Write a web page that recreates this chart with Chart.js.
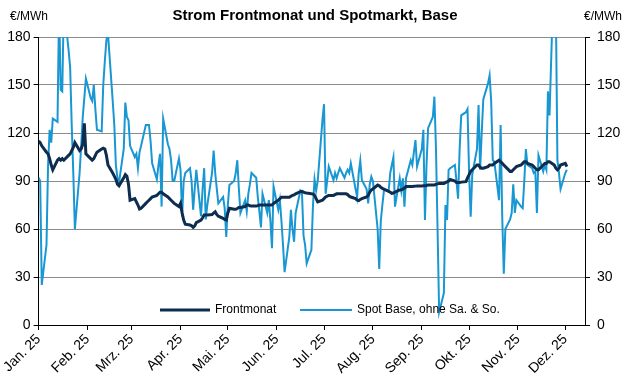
<!DOCTYPE html>
<html>
<head>
<meta charset="utf-8">
<script src="https://cdn.jsdelivr.net/npm/chart.js@4"></script>
<style>
html,body{margin:0;padding:0;background:#fff;}
#c{display:block;}
</style>
</head>
<body>
<canvas id="c" width="626" height="392"></canvas>
<script>
// ---- Texts ----
const titleText = 'Strom Frontmonat und Spotmarkt, Base';
const unitLabel = '€/MWh';
const seriesNames = ['Frontmonat', 'Spot Base, ohne Sa. & So.'];
const monthLabels = ['Jan. 25','Feb. 25','Mrz. 25','Apr. 25','Mai. 25','Jun. 25','Jul. 25','Aug. 25','Sep. 25','Okt. 25','Nov. 25','Dez. 25'];
const monthStarts = [0,31,59,90,120,151,181,212,243,273,304,334]; // day-of-year of 1st of month
const yTicks = [0,30,60,90,120,150,180];

// ---- Spot Base (weekdays only), per month ----
const spotJan = [92,90,25,50,100,122,114,129,127,200,147,146,200,172,161,125,95,60,95,112,130,142,154];
const spotFeb = [142,140,150,135,122,121,150,165,178,182,140,125,100,92,89,110,139,130,128,112];
const spotMar = [105,107,98,108,112,125,125,125,115,101,91,100,107,74,129,113,110,103,90,90,104];
const spotApr = [97,68,90,95,98,90,72,85,97,68,85,98,66,75,95,109,95,85,76,80,73,55];
const spotMay = [75,87.5,90,95,103,85,70,78,71,82,88,95,92,80,71,61,82,70,78,65,48,86.5];
const spotJun = [72,78,65,50,33,55,72,60,52,70,84,83,56,50,38.5,47,75,91,84,90,128];
const spotJul = [138,82,90,99,90.6,95,91.7,95,98,92,95,97,95,101,85,80,95,102.7,90.6,85,76,88,92.7];
const spotAug = [90,60,35,65,75,84,84,95,100,104.8,74,91.7,84,91.7,74,91.7,103,100,108,115.6,99];
const spotSep = [110,122,65.6,100,123,130,142.7,110,60,8,20,75,65.6,97,98,100,90,79,110,131,133,135];
const spotOct = [95,67.7,94,110,137.5,97,120,141,151,156,140,103,102,78,125,68,32,60,66,70,88,70,78];
const spotNov = [74,73,90,110,100,98,95,96,70,106,96,100,97,146,131,230,200,103,95,85];
const spotDec = [95,97];

// ---- Frontmonat, per month ----
const frontJan = [115,114,112,108,107,104,100,97,103,104,103,104,103,106,107,109,111,114,109,110,113,126,107];
const frontFeb = [104,103,104,106,108,110,110.5,110,106,100,95,93,91,88,87,92,94,93,88,78];
const frontMar = [79,77,75,72.5,73,76,77,78,79,80,81,82,83,83,82,80,79,78,77,76,74];
const frontApr = [76,70,65.6,63,62.5,62,61,62,64,65.6,67,68.8,68.8,68.8,69,70,70.8,69,68,66.7,66,65.6];
const frontMay = [70,73,72.3,72.3,72.8,73.5,73.5,74,75,75,74.5,74.4,74.4,74.6,75,75,75,75,75,75,75,76];
const frontJun = [78,79,79.8,79.8,79.8,79.8,80.5,81,81.3,82,83.3,83.5,83,82.7,82.5,82,81.9,81,79,77,78];
const frontJul = [79,80,80.5,81,81,81.5,82,82,82,82,82,81.5,80.5,80,79,78,77.7,78.5,79,80,81,83,84.4];
const frontAug = [85,87.5,87,86,85.4,85,83.5,83,82.3,82.5,83,84.4,84.5,85,85.5,86.5,86.5,86.5,86.7,86.8,86.9];
const frontSep = [86.9,87,87,87.2,87.5,87.5,87.5,88,88.2,88.5,88.5,89,89.5,90,91,90,89,89,89,89.3,89.6,92];
const frontOct = [94,96,97,100,100,98.5,98,98,99,100,100,100,101,103,102,101,100,99,96,96,97,98,99];
const frontNov = [100,101,102,102,101,100,99,98,97,97,100,101,101,102,102,100,98,97,98,100];
const frontDec = [101,99];

// ---- Build weekday dates (day-of-year index) from the calendar ----
const weekdays = [];
for (let d = 0; d <= 335; d++) {
  const w = new Date(Date.UTC(2025, 0, 1 + d)).getUTCDay();
  if (w !== 0 && w !== 6) weekdays.push(d);
}
const spot = [].concat(spotJan,spotFeb,spotMar,spotApr,spotMay,spotJun,spotJul,spotAug,spotSep,spotOct,spotNov,spotDec);
const front = [].concat(frontJan,frontFeb,frontMar,frontApr,frontMay,frontJun,frontJul,frontAug,frontSep,frontOct,frontNov,frontDec);
const spotPts = spot.map((v,i)=>({x: weekdays[i], y: v}));
const frontPts = front.map((v,i)=>({x: weekdays[i], y: v}));

const FRONT_COLOR = '#0d2c4f';
const SPOT_COLOR = '#1897d3';
const FONT = '"Liberation Sans", Arial, sans-serif';

Chart.defaults.font.family = FONT;
Chart.defaults.color = '#000';

const overlay = {
  id: 'overlay',
  afterDraw(chart) {
    const ctx = chart.ctx;
    ctx.save();
    ctx.fillStyle = '#000';
    ctx.textBaseline = 'middle';
    ctx.font = 'bold 15px ' + FONT;
    ctx.textAlign = 'center';
    ctx.fillText(titleText, 315, 16);
    ctx.font = '12px ' + FONT;
    ctx.textAlign = 'left';
    ctx.fillText(unitLabel, 10, 17);
    ctx.textAlign = 'right';
    ctx.fillText(unitLabel, 622, 17);
    // legend inside the plot
    const ly = 310;
    const items = [
      {x0: 160, x1: 210, tx: 215, w: 3, c: FRONT_COLOR, t: seriesNames[0]},
      {x0: 300, x1: 352, tx: 357, w: 2, c: SPOT_COLOR, t: seriesNames[1]}
    ];
    items.forEach(it => {
      ctx.strokeStyle = it.c; ctx.lineWidth = it.w;
      ctx.beginPath(); ctx.moveTo(it.x0, ly); ctx.lineTo(it.x1, ly); ctx.stroke();
      ctx.fillStyle = '#000'; ctx.textAlign = 'left';
      ctx.fillText(it.t, it.tx, ly);
    });
    ctx.restore();
  }
};

new Chart(document.getElementById('c'), {
  type: 'line',
  data: {
    datasets: [
      {label: seriesNames[0], data: frontPts, borderColor: FRONT_COLOR, borderWidth: 3, pointRadius: 0, tension: 0, yAxisID: 'y'},
      {label: seriesNames[1], data: spotPts, borderColor: SPOT_COLOR, borderWidth: 2, pointRadius: 0, tension: 0, yAxisID: 'y'}
    ]
  },
  options: {
    responsive: false,
    animation: false,
    layout: {padding: {top: 37, left: 0, right: 0, bottom: 0}},
    plugins: {legend: {display: false}, title: {display: false}, tooltip: {enabled: false}},
    scales: {
      x: {
        type: 'linear', min: 0, max: 346.5,
        afterBuildTicks: ax => { ax.ticks = monthStarts.map(v => ({value: v})); },
        afterFit: ax => { ax.height = 67; },
        ticks: {autoSkip: false, minRotation: 45, maxRotation: 45, padding: 1, font: {size: 14}, color: '#000',
                callback: v => monthLabels[monthStarts.indexOf(v)]},
        grid: {drawOnChartArea: false, drawTicks: true, tickLength: 5, tickColor: '#000'},
        border: {display: true, color: '#000', width: 1}
      },
      y: {
        position: 'left', min: 0, max: 180,
        afterBuildTicks: ax => { ax.ticks = yTicks.map(v => ({value: v})); },
        afterFit: ax => { ax.width = 38.6; },
        ticks: {padding: 3, font: {size: 14}, color: '#000'},
        grid: {color: '#8c8c8c', lineWidth: 1, tickLength: 5, tickColor: '#000'},
        border: {display: true, color: '#000', width: 1}
      },
      y2: {
        position: 'right', min: 0, max: 180,
        afterBuildTicks: ax => { ax.ticks = yTicks.map(v => ({value: v})); },
        afterFit: ax => { ax.width = 41; },
        ticks: {padding: 7, font: {size: 14}, color: '#000'},
        grid: {drawOnChartArea: false, tickLength: 5, tickColor: '#000'},
        border: {display: true, color: '#000', width: 1}
      }
    }
  },
  plugins: [overlay]
});
</script>
</body>
</html>
